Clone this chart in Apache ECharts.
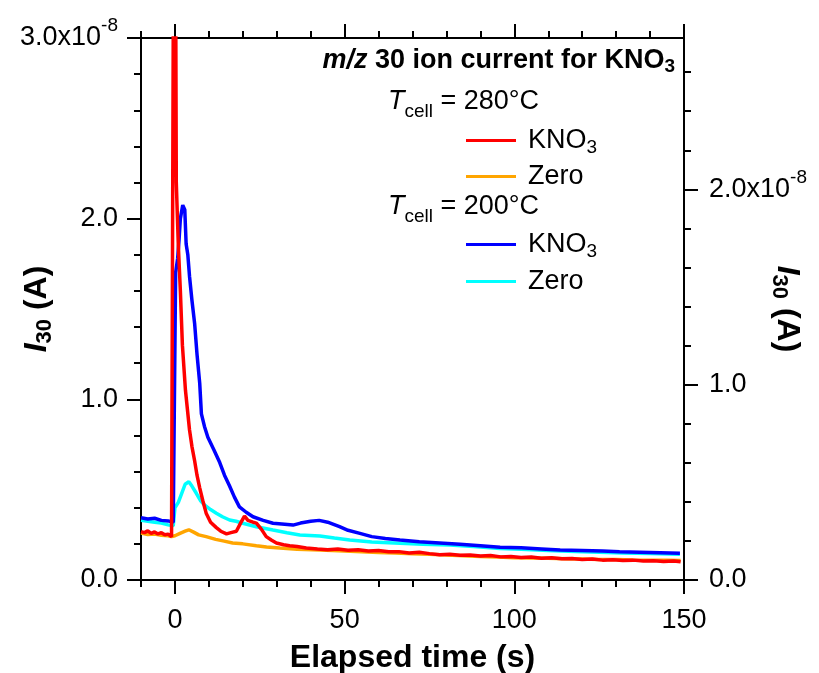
<!DOCTYPE html>
<html>
<head>
<meta charset="utf-8">
<script src="https://cdn.jsdelivr.net/npm/echarts@6/dist/echarts.min.js"></script>
<style>html,body{margin:0;padding:0;background:#fff}#c{width:819px;height:673px}</style>
</head>
<body>
<div id="c"></div>
<script>
// Values in units of 1e-8 A; time in seconds
const t_red = [-10,-9,-8,-7,-6,-5,-4,-3,-2,-1,-0.6,-0.4,0.2,0.4,1.0,1.6,2.2,3.1,4.3,5.0,5.8,6.5,7.3,8.2,9.2,10.5,12.2,13.5,15.2,16.5,18.1,19.5,20.5,21.5,23,24,25.5,26.9,28.5,29.9,32,33.8,36,38.7,42,45,48,51,54,57,60,63,66,69,72,75,78,81,84,87,90,93,96,99,102,105,108,111,114,117,120,123,126,129,132,135,138,141,144,147,149];
const v_red = [0.268,0.262,0.272,0.258,0.266,0.255,0.262,0.250,0.254,0.240,0.236,3.6,3.4,2.2,1.85,1.60,1.30,1.05,0.83,0.74,0.66,0.58,0.51,0.44,0.37,0.32,0.29,0.27,0.255,0.262,0.27,0.32,0.354,0.33,0.32,0.315,0.28,0.24,0.22,0.205,0.195,0.19,0.185,0.177,0.172,0.168,0.171,0.165,0.167,0.160,0.163,0.156,0.157,0.150,0.153,0.146,0.140,0.143,0.137,0.139,0.133,0.135,0.128,0.130,0.125,0.127,0.121,0.123,0.117,0.119,0.113,0.116,0.110,0.112,0.108,0.110,0.105,0.107,0.103,0.105,0.101];

const t_orange = [-10,-8,-6,-4,-2,-1,0,1.5,3,4.1,5.5,7,9.2,12,14.5,17,20,24,27,30.9,36,42.7,50,55,60,65,70,75,80,85,90,95,100,105,110,115,120,125,130,135,140,145,149];
const v_orange = [0.26,0.252,0.255,0.248,0.245,0.24,0.245,0.258,0.27,0.278,0.265,0.25,0.24,0.225,0.215,0.205,0.2,0.19,0.183,0.177,0.17,0.166,0.16,0.157,0.152,0.149,0.145,0.142,0.138,0.134,0.13,0.127,0.123,0.122,0.12,0.118,0.116,0.114,0.113,0.111,0.11,0.109,0.108];

const t_blue = [-10,-8,-6,-4,-2,-0.5,0.2,0.8,1.2,1.6,2.3,2.9,3.3,3.8,4.3,5.0,5.8,6.5,7.3,7.8,8.7,9.7,11.5,13.2,14.6,16.1,17.5,19,21,23,26,28.9,31.5,34.8,37,40,42.5,45,48.5,51,54.5,58,62,66.3,72,78,84,90,95.8,102,108,113.5,120,126,131,137,143,148.8];
const v_blue = [0.345,0.338,0.342,0.33,0.327,0.32,1.70,1.78,1.88,2.0,2.075,2.05,1.86,1.80,1.68,1.55,1.42,1.25,1.09,0.92,0.85,0.79,0.72,0.65,0.58,0.52,0.46,0.405,0.375,0.35,0.33,0.314,0.31,0.304,0.315,0.325,0.33,0.32,0.295,0.275,0.258,0.24,0.23,0.221,0.212,0.205,0.198,0.19,0.181,0.178,0.172,0.166,0.163,0.16,0.157,0.154,0.151,0.148];

const t_cyan = [-10,-8,-6,-4,-2,-0.5,0,1,2,3,4.1,5,6.3,7.5,8.7,10.5,12.2,14,16.1,18,20,24,28.9,33,36.8,42.7,47,51.5,58,66.3,73,81,88,95.8,102,110,118,125,132,140,148.8];
const v_cyan = [0.33,0.325,0.32,0.315,0.305,0.30,0.40,0.43,0.48,0.53,0.544,0.52,0.48,0.44,0.415,0.39,0.37,0.35,0.332,0.325,0.314,0.295,0.277,0.262,0.249,0.243,0.232,0.221,0.21,0.203,0.198,0.194,0.185,0.175,0.17,0.163,0.158,0.154,0.15,0.146,0.143];

const xMinorTicks = [-10,0,10,20,30,40,50,60,70,80,90,100,110,120,130,140,150];
const xMajorTicks = [0,50,100,150];
const yLeftMinorTicks = [0,0.2,0.4,0.6,0.8,1,1.2,1.4,1.6,1.8,2,2.2,2.4,2.6,2.8,3];
const yLeftMajorTicks = [0,1,2,3];
const yRightMinorTicks = [0,0.2,0.4,0.6,0.8,1,1.2,1.4,1.6,1.8,2,2.2,2.4,2.6];
const yRightMajorTicks = [0,1,2];
const exponentLabel = '-8';

const FONT = 'Liberation Sans';
const zip = (t, v) => t.map((x, i) => [x, v[i]]);

const labelRich = {
  n: {fontSize: 27, fontFamily: FONT, color: '#000', lineHeight: 27},
  sup: {fontSize: 19, fontFamily: FONT, color: '#000', verticalAlign: 'top', padding: [0, 0, 24, 0]}
};
const nameRich = {
  bi: {fontSize: 32, fontFamily: FONT, fontWeight: 'bold', fontStyle: 'italic', color: '#000', lineHeight: 32},
  bs: {fontSize: 22, fontFamily: FONT, fontWeight: 'bold', color: '#000', verticalAlign: 'bottom', padding: [16, 0, 0, 0]},
  b: {fontSize: 32, fontFamily: FONT, fontWeight: 'bold', color: '#000', lineHeight: 32}
};
const annRich = {
  r: {fontSize: 27, fontFamily: FONT, color: '#000', lineHeight: 27},
  i: {fontSize: 27, fontFamily: FONT, fontStyle: 'italic', color: '#000', lineHeight: 27},
  s: {fontSize: 19, fontFamily: FONT, color: '#000', verticalAlign: 'bottom', padding: [15, 0, 0, 0]},
  sc: {fontSize: 19, fontFamily: FONT, color: '#000', verticalAlign: 'bottom', padding: [20, 0, 0, 0]},
  b: {fontSize: 27, fontFamily: FONT, fontWeight: 'bold', color: '#000', lineHeight: 27},
  bi: {fontSize: 27, fontFamily: FONT, fontWeight: 'bold', fontStyle: 'italic', color: '#000', lineHeight: 27},
  bs: {fontSize: 19, fontFamily: FONT, fontWeight: 'bold', color: '#000', verticalAlign: 'bottom', padding: [13, 0, 0, 0]}
};

const axisLine = {show: true, onZero: false, lineStyle: {color: '#000', width: 2}};
const noLine = {show: false, onZero: false};
const tickStyle = {color: '#000', width: 2};

const leftFmt = v => v === 3 ? '{n|3.0x10}{sup|' + exponentLabel + '}' : '{n|' + v.toFixed(1) + '}';
const rightFmt = v => v === 2 ? '{n|2.0x10}{sup|' + exponentLabel + '}' : '{n|' + v.toFixed(1) + '}';

const seriesDefs = [
  {name: 'Zero 200', color: '#00ffff', t: t_cyan, v: v_cyan},
  {name: 'KNO3 200', color: '#0000ff', t: t_blue, v: v_blue},
  {name: 'Zero 280', color: '#ffa500', t: t_orange, v: v_orange},
  {name: 'KNO3 280', color: '#ff0000', t: t_red, v: v_red}
];

const legendLabel = {'KNO3 280': '{r|KNO}{s|3}', 'Zero 280': '{r|Zero}', 'KNO3 200': '{r|KNO}{s|3}', 'Zero 200': '{r|Zero}'};
function mkLegend(name, top) {
  return {
    data: [name], left: 466, top: top, orient: 'vertical', padding: 0,
    itemWidth: 50, itemHeight: 3, icon: 'rect', selectedMode: false,
    formatter: n => legendLabel[n],
    textStyle: {rich: annRich, padding: [0, 0, 0, 7]}
  };
}

const chart = echarts.init(document.getElementById('c'), null, {renderer: 'canvas'});
chart.setOption({
  animation: false,
  backgroundColor: '#fff',
  grid: {left: 141, right: 135, top: 38, bottom: 93, containLabel: false, outerBoundsMode: 'none'},
  xAxis: [
    {type: 'value', min: -10, max: 150, position: 'bottom', axisLine,
     axisTick: {customValues: xMinorTicks, length: 7, lineStyle: tickStyle},
     axisLabel: {customValues: xMajorTicks, fontSize: 27, fontFamily: FONT, color: '#000', margin: 27},
     splitLine: {show: false},
     name: 'Elapsed time (s)', nameLocation: 'middle', nameGap: 62, nameMoveOverlap: false,
     nameTextStyle: {fontSize: 32, fontWeight: 'bold', fontFamily: FONT, color: '#000'}},
    {type: 'value', min: -10, max: 150, position: 'bottom', axisLine: noLine,
     axisTick: {customValues: xMajorTicks, length: 14, lineStyle: tickStyle},
     axisLabel: {show: false}, splitLine: {show: false}},
    {type: 'value', min: -10, max: 150, position: 'top', axisLine,
     axisTick: {customValues: xMinorTicks, length: 7, lineStyle: tickStyle},
     axisLabel: {show: false}, splitLine: {show: false}},
    {type: 'value', min: -10, max: 150, position: 'top', axisLine: noLine,
     axisTick: {customValues: xMajorTicks, length: 14, lineStyle: tickStyle},
     axisLabel: {show: false}, splitLine: {show: false}}
  ],
  yAxis: [
    {type: 'value', min: 0, max: 3, position: 'left', axisLine,
     axisTick: {customValues: yLeftMinorTicks, length: 7, lineStyle: tickStyle},
     axisLabel: {customValues: yLeftMajorTicks, formatter: leftFmt, rich: labelRich, margin: 23},
     splitLine: {show: false},
     name: '{bi|I}{bs|30}{b| (A)}', nameLocation: 'middle', nameGap: 85, nameRotate: 90, nameMoveOverlap: false,
     nameTextStyle: {rich: nameRich}},
    {type: 'value', min: 0, max: 3, position: 'left', axisLine: noLine,
     axisTick: {customValues: yLeftMajorTicks, length: 14, lineStyle: tickStyle},
     axisLabel: {show: false}, splitLine: {show: false}},
    {type: 'value', min: 0, max: 2.775, position: 'right', axisLine,
     axisTick: {customValues: yRightMinorTicks, length: 7, lineStyle: tickStyle},
     axisLabel: {customValues: yRightMajorTicks, formatter: rightFmt, rich: labelRich, margin: 25},
     splitLine: {show: false},
     name: '{bi|I}{bs|30}{b| (A)}', nameLocation: 'middle', nameGap: 84, nameRotate: -90, nameMoveOverlap: false,
     nameTextStyle: {rich: nameRich}},
    {type: 'value', min: 0, max: 2.775, position: 'right', axisLine: noLine,
     axisTick: {customValues: yRightMajorTicks, length: 14, lineStyle: tickStyle},
     axisLabel: {show: false}, splitLine: {show: false}}
  ],
  legend: [
    mkLegend('KNO3 280', 127),
    mkLegend('Zero 280', 163),
    mkLegend('KNO3 200', 231),
    mkLegend('Zero 200', 268)
  ],
  graphic: [
    {type: 'text', right: 144, top: 47, style: {text: '{bi|m/z}{b| 30 ion current for KNO}{bs|3}', rich: annRich}},
    {type: 'text', left: 388, top: 88, style: {text: '{i|T}{sc|cell}{r| = 280°C}', rich: annRich}},
    {type: 'text', left: 388, top: 193, style: {text: '{i|T}{sc|cell}{r| = 200°C}', rich: annRich}}
  ],
  series: seriesDefs.map(s => ({
    name: s.name, type: 'line', xAxisIndex: 0, yAxisIndex: 0,
    data: zip(s.t, s.v), showSymbol: false, symbol: 'none', clip: true,
    color: s.color, lineStyle: {color: s.color, width: 3.5}, itemStyle: {color: s.color}
  }))
});
</script>
</body>
</html>
